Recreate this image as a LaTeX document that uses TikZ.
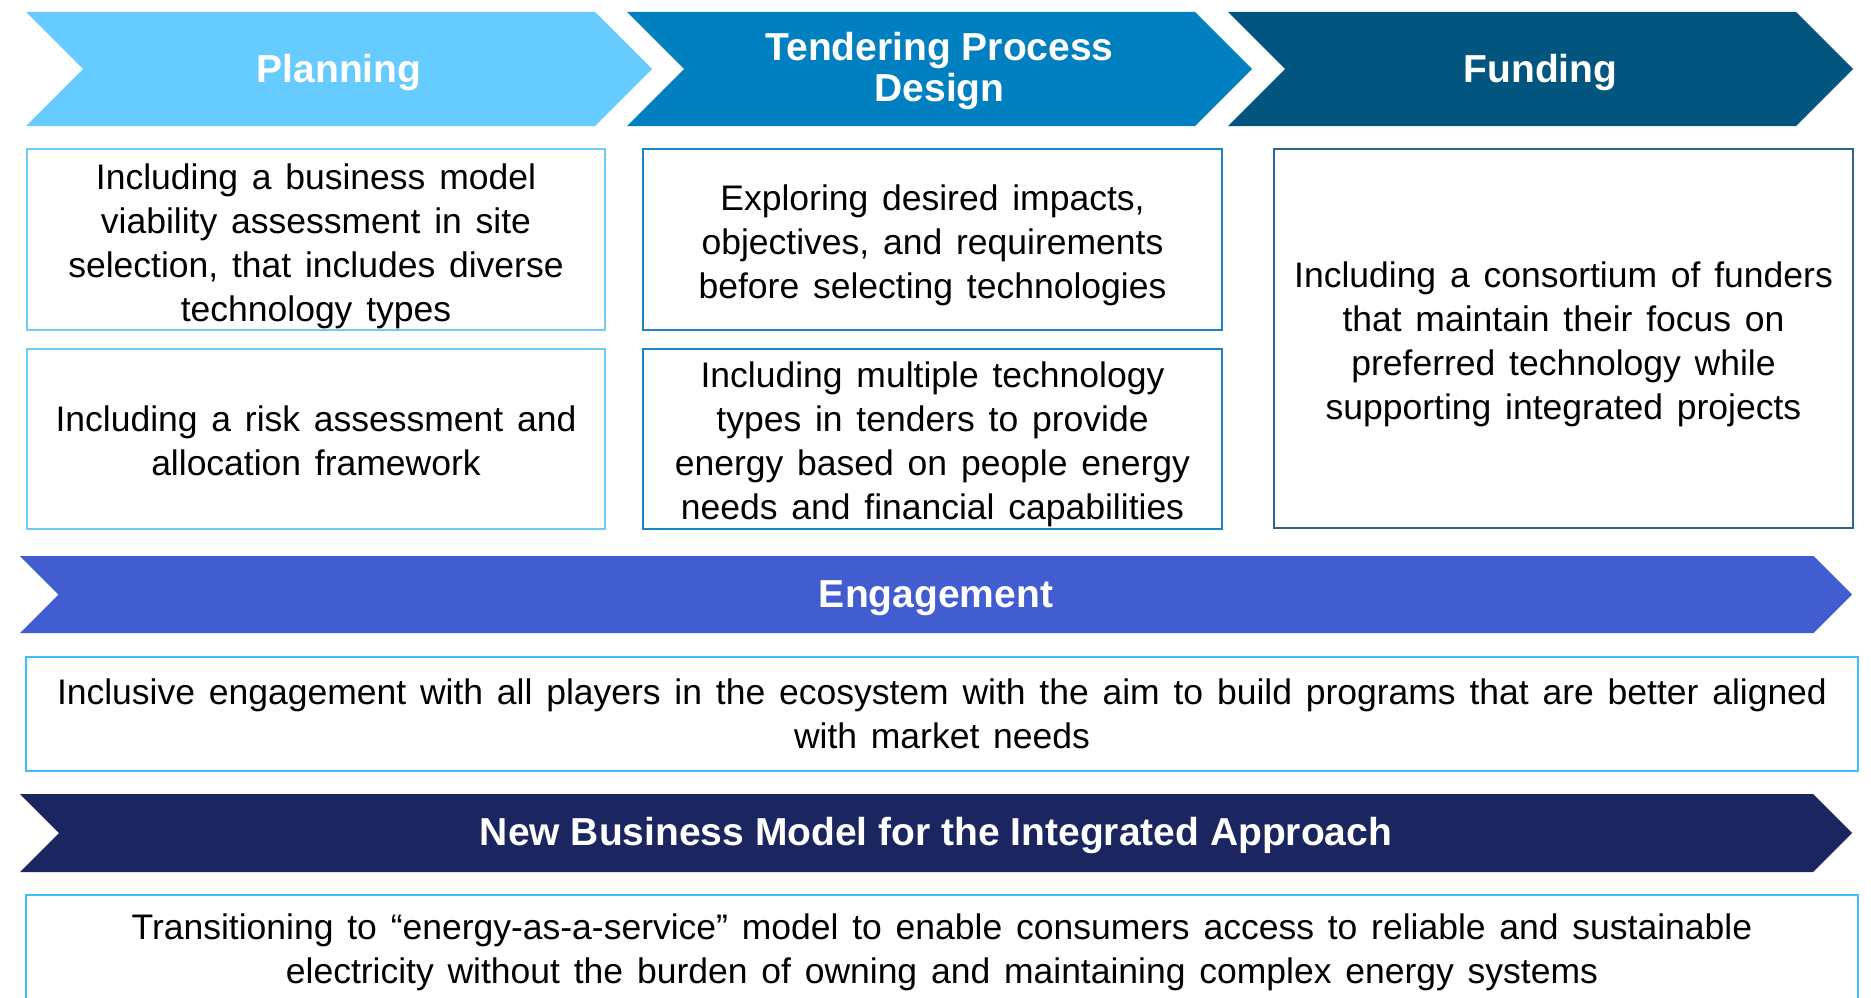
\documentclass[tikz,border=0pt]{standalone}
\usepackage{fontspec}
\setmainfont{Liberation Sans}
\newfontfamily\bodyfam{Liberation Sans}[WordSpace=1.4]
\definecolor{planC}{HTML}{66CCFF}
\definecolor{tendC}{HTML}{0080C0}
\definecolor{fundC}{HTML}{02557F}
\definecolor{engC}{HTML}{425DCF}
\definecolor{nbmC}{HTML}{1B2560}
\definecolor{boxA}{HTML}{70CCF5}
\definecolor{boxB}{HTML}{1A86C8}
\definecolor{boxC}{HTML}{2A6690}
\definecolor{boxE}{HTML}{40BEFA}
\newcommand\bodyfnt{\bodyfam\fontsize{35.5}{44.2}\selectfont}
\newcommand\titlefnt{\fontsize{39}{40.7}\selectfont\bfseries}
\begin{document}
\begin{tikzpicture}[x=1pt,y=-1pt,
  frame/.style={draw, line width=2pt, fill=white, inner sep=0pt},
  txt/.style={align=center, font=\bodyfnt, inner sep=0pt, text=black},
  ttl/.style={text=white, font=\titlefnt, align=center, inner sep=0pt}]
\clip (0,0) rectangle (1871,998);
\fill[white] (0,0) rectangle (1871,998);
% top chevrons
\fill[planC] (26,12) -- (595,12) -- (652,69) -- (595,126) -- (26,126) -- (83,69) -- cycle;
\fill[tendC] (627,12) -- (1195,12) -- (1252,69) -- (1195,126) -- (627,126) -- (684,69) -- cycle;
\fill[fundC] (1228,12) -- (1796,12) -- (1853,69) -- (1796,126) -- (1228,126) -- (1285,69) -- cycle;
\node[ttl, anchor=base] (tplan) at (339,82) {Planning};
\node[ttl] (ttend) at (939.5,71) {Tendering Process\\Design};
\node[ttl, anchor=base] (tfund) at (1540.5,82) {Funding};
% boxes
\node[frame, draw=boxA, minimum width=578, minimum height=181] (a1) at (316,239.5) {};
\node[txt] (a1t) at ([yshift=-7pt]a1.center)
  {Including a business model\\viability assessment in site\\selection, that includes diverse\\technology types};
\node[frame, draw=boxA, minimum width=578, minimum height=180] (a2) at (316,439) {};
\node[txt] (a2t) at ([yshift=-2pt]a2.center)
  {Including a risk assessment and\\allocation framework};
\node[frame, draw=boxB, minimum width=579, minimum height=181] (b1) at (932.5,239.5) {};
\node[txt] (b1t) at ([yshift=-6pt]b1.center)
  {Exploring desired impacts,\\objectives, and requirements\\before selecting technologies};
\node[frame, draw=boxB, minimum width=579, minimum height=180] (b2) at (932.5,439) {};
\node[txt] (b2t) at ([yshift=-5.5pt]b2.center)
  {Including multiple technology\\types in tenders to provide\\energy based on people energy\\needs and financial capabilities};
\node[frame, draw=boxC, minimum width=579, minimum height=379] (c1) at (1563.5,338.5) {};
\node[txt] (c1t) at ([yshift=-6pt]c1.center)
  {Including a consortium of funders\\that maintain their focus on\\preferred technology while\\supporting integrated projects};
% engagement
\fill[engC] (20,556) -- (1813.5,556) -- (1852,594.5) -- (1813.5,633) -- (20,633) -- (58.5,594.5) -- cycle;
\node[ttl, anchor=base] (teng) at (936,607.5) {Engagement};
\node[frame, draw=boxE, minimum width=1832, minimum height=114] (e1) at (942,714) {};
\node[txt] (e1t) at (e1.center)
  {Inclusive engagement with all players in the ecosystem with the aim to build programs that are better aligned\\with market needs};
% new business model
\fill[nbmC] (20,794) -- (1813,794) -- (1852,833) -- (1813,872) -- (20,872) -- (59,833) -- cycle;
\node[ttl, anchor=base] (tnbm) at (936,845) {New Business Model for the Integrated Approach};
\node[frame, draw=boxE, minimum width=1832, minimum height=107] (n1) at (942,948.5) {};
\node[txt] (n1t) at ([yshift=-4pt]n1.center)
  {Transitioning to “energy-as-a-service” model to enable consumers access to reliable and sustainable\\electricity without the burden of owning and maintaining complex energy systems};
\end{tikzpicture}
\end{document}
